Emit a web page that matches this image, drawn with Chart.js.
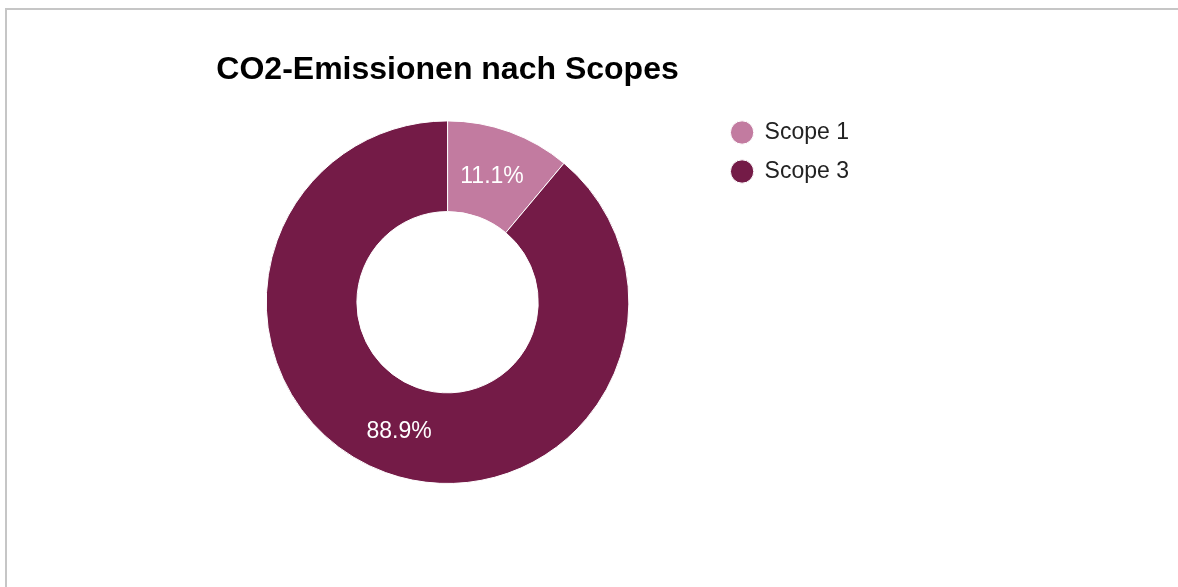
<!DOCTYPE html>
<html>
<head>
<meta charset="utf-8">
<script src="https://cdn.jsdelivr.net/npm/chart.js@4.4.1/dist/chart.umd.min.js"></script>
<style>
  html, body { margin: 0; padding: 0; background: #fff; }
  body { width: 1178px; height: 587px; position: relative; overflow: hidden; }
  .frame {
    position: absolute; left: 5px; top: 8px; right: 0; bottom: -10px;
    border-left: 2px solid #c6c6c6; border-top: 2px solid #c6c6c6;
  }
  .wrap { position: absolute; left: 0; top: 0; width: 1178px; height: 587px; }
</style>
</head>
<body>
<div class="frame"></div>
<div class="wrap"><canvas id="myChart"></canvas></div>
<script>
const chartTitle = "CO2-Emissionen nach Scopes";
const scopeLabels = ["Scope 1", "Scope 3"];
const scopeValues = [11.1, 88.9];
const scopeColors = ["#c27ba0", "#741b47"];

// percent labels in the middle of each ring segment
const sliceLabels = {
  id: "sliceLabels",
  afterDatasetsDraw(chart) {
    const ctx = chart.ctx;
    const data = chart.data.datasets[0].data;
    const total = data.reduce((a, b) => a + b, 0);
    ctx.save();
    ctx.font = "23px 'Liberation Sans', Arial, sans-serif";
    ctx.fillStyle = "#ffffff";
    ctx.textAlign = "center";
    ctx.textBaseline = "middle";
    chart.getDatasetMeta(0).data.forEach((arc, i) => {
      const pos = arc.tooltipPosition();
      ctx.fillText((data[i] / total * 100).toFixed(1) + "%", pos.x - 2, pos.y + 2);
    });
    ctx.restore();
  }
};

new Chart("myChart", {
  type: "doughnut",
  data: {
    labels: scopeLabels,
    datasets: [{
      data: scopeValues,
      backgroundColor: scopeColors,
      borderColor: "#ffffff",
      borderWidth: 1
    }]
  },
  options: {
    responsive: true,
    maintainAspectRatio: false,
    animation: false,
    events: [],
    cutout: "50%",
    layout: {
      padding: {left: 180, right: 319, top: 30, bottom: 103}
    },
    plugins: {
      tooltip: {enabled: false},
      title: {
        display: true,
        text: chartTitle,
        fullSize: false,
        color: "#000000",
        font: {family: "'Liberation Sans', Arial, sans-serif", size: 32, weight: "bold"},
        padding: {top: 21, bottom: 31}
      },
      legend: {
        position: "right",
        align: "start",
        title: {display: true, text: "", padding: {top: 60.6, bottom: 0}},
        labels: {
          usePointStyle: true,
          pointStyle: "circle",
          boxWidth: 22,
          boxHeight: 16.5,
          padding: 16,
          color: "#222222",
          font: {family: "'Liberation Sans', Arial, sans-serif", size: 23}
        }
      }
    }
  },
  plugins: [sliceLabels]
});
</script>
</body>
</html>
